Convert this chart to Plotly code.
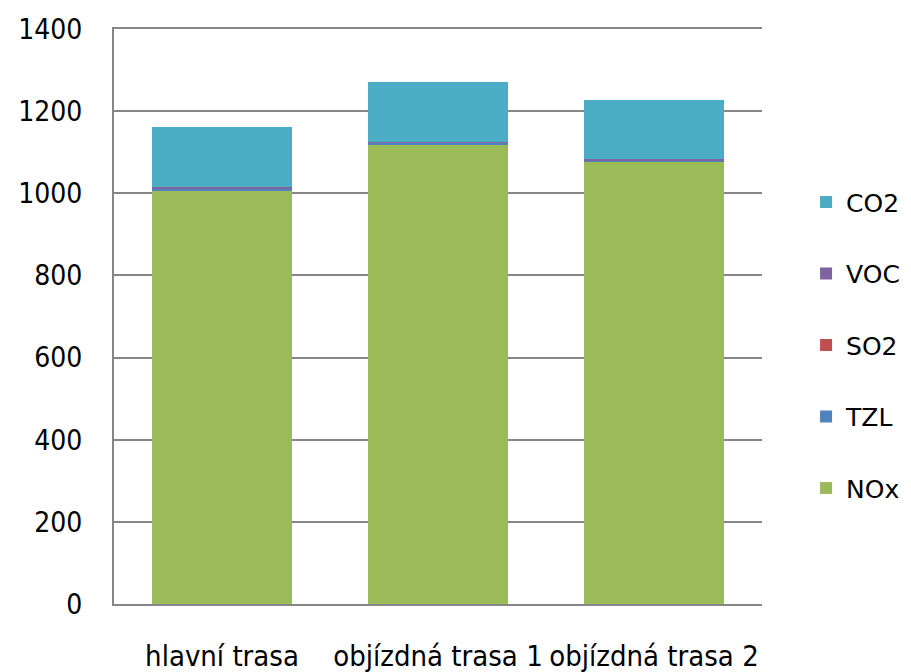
import plotly.graph_objects as go

routes = ['hlavní trasa', 'objízdná trasa 1', 'objízdná trasa 2']

nox = [1007, 1119, 1078]
tzl = [4, 4, 1]
so2 = [0.5, 0.5, 0.5]
voc = [5, 1, 3]
co2 = [144, 147, 145]

series = [
    ('NOx', nox, '#9BBB59'),
    ('TZL', tzl, '#4F81BD'),
    ('SO2', so2, '#C0504D'),
    ('VOC', voc, '#8064A2'),
    ('CO2', co2, '#4BACC6'),
]

data = []
for i, (name, vals, color) in enumerate(series):
    data.append(go.Bar(
        x=routes,
        y=vals,
        name=name,
        legendgroup=name,
        legendrank=len(series) - i,
        marker=dict(color=color, line=dict(width=0)),
    ))

layout = go.Layout(
    width=911,
    height=672,
    barmode='stack',
    bargap=0.352,
    plot_bgcolor='white',
    paper_bgcolor='white',
    margin=dict(l=106, r=157, t=21, b=76),
    font=dict(family='DejaVu Sans', color='#000000'),
    xaxis=dict(
        automargin=False,
        showline=True,
        mirror=True,
        linecolor='#868686',
        linewidth=2,
        tickangle=0,
        ticks='',
        ticklabelstandoff=25,
        tickfont=dict(family='DejaVu Sans Condensed, Liberation Sans', size=29),
    ),
    yaxis=dict(
        automargin=False,
        range=[0, 1400],
        dtick=200,
        showline=True,
        linecolor='#868686',
        linewidth=2,
        showgrid=True,
        gridcolor='#868686',
        gridwidth=2,
        zeroline=False,
        ticks='',
        ticklabelstandoff=24,
        tickfont=dict(family='DejaVu Sans Condensed, Liberation Sans', size=28),
    ),
    legend=dict(
        x=1.068,
        xanchor='left',
        y=0.45,
        yanchor='middle',
        traceorder='grouped',
        tracegroupgap=36,
        font=dict(size=25),
    ),
)

fig = go.Figure(data=data, layout=layout)
fig.write_html("out.html")
